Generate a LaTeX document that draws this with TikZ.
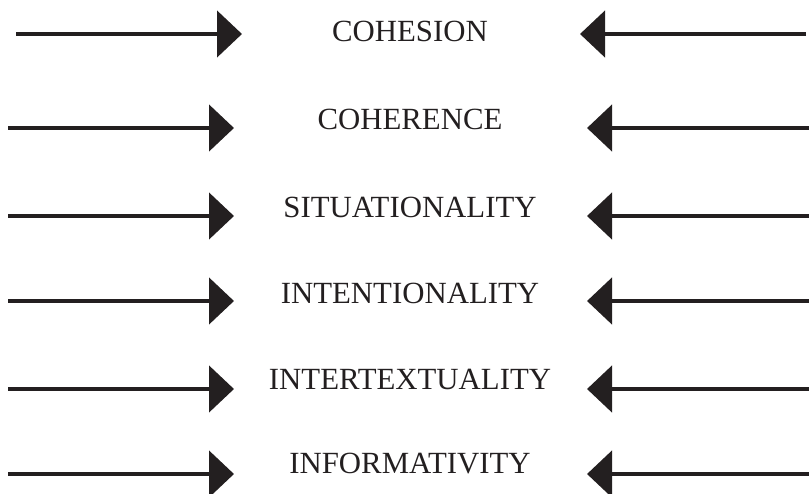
\documentclass[tikz,border=0pt]{standalone}
\usepackage{fontspec}
\setmainfont{Liberation Serif}
\usepackage{xcolor}
\usetikzlibrary{arrows.meta}
\definecolor{ink}{HTML}{231F20}

\begin{document}
\begin{tikzpicture}[x=1pt, y=-1pt]
    % Define the style for the nodes
    \tikzstyle{label} = [anchor=base, text=ink, inner sep=0pt, font=\fontsize{30.8}{36}\selectfont]
    \tikzstyle{line} = [draw=ink, line width=4.8pt, -{Triangle[length=25pt, width=46pt]}]

    \useasboundingbox (0,0) rectangle (809,493);

    % Place the nodes
    \node [label] (cohesion) at (410,41) {COHESION};
    \node [label] (coherence) at (410,129) {COHERENCE};
    \node [label] (situation) at (410,217) {SITUATIONALITY};
    \node [label] (intention) at (410,303) {INTENTIONALITY};
    \node [label] (intertext) at (410,389) {INTERTEXTUALITY};
    \node [label] (inform) at (410,473) {INFORMATIVITY};

    % Ends of the arrows
    \coordinate (cohesion-l) at (16,34);   \coordinate (cohesion-lt) at (242,34);
    \coordinate (cohesion-r) at (806,34);  \coordinate (cohesion-rt) at (580,34);
    \coordinate (coherence-l) at (8,128);  \coordinate (coherence-lt) at (234,128);
    \coordinate (coherence-r) at (809,128); \coordinate (coherence-rt) at (587,128);
    \coordinate (situation-l) at (8,216);  \coordinate (situation-lt) at (234,216);
    \coordinate (situation-r) at (809,216); \coordinate (situation-rt) at (587,216);
    \coordinate (intention-l) at (8,301);  \coordinate (intention-lt) at (234,301);
    \coordinate (intention-r) at (809,301); \coordinate (intention-rt) at (587,301);
    \coordinate (intertext-l) at (8,389);  \coordinate (intertext-lt) at (234,389);
    \coordinate (intertext-r) at (809,389); \coordinate (intertext-rt) at (587,389);
    \coordinate (inform-l) at (8,474);     \coordinate (inform-lt) at (234,474);
    \coordinate (inform-r) at (809,474);   \coordinate (inform-rt) at (587,474);

    % Connect the ends with arrows
    \path [line] (cohesion-l) -- (cohesion-lt);
    \path [line] (cohesion-r) -- (cohesion-rt);
    \path [line] (coherence-l) -- (coherence-lt);
    \path [line] (coherence-r) -- (coherence-rt);
    \path [line] (situation-l) -- (situation-lt);
    \path [line] (situation-r) -- (situation-rt);
    \path [line] (intention-l) -- (intention-lt);
    \path [line] (intention-r) -- (intention-rt);
    \path [line] (intertext-l) -- (intertext-lt);
    \path [line] (intertext-r) -- (intertext-rt);
    \path [line] (inform-l) -- (inform-lt);
    \path [line] (inform-r) -- (inform-rt);

\end{tikzpicture}
\end{document}
